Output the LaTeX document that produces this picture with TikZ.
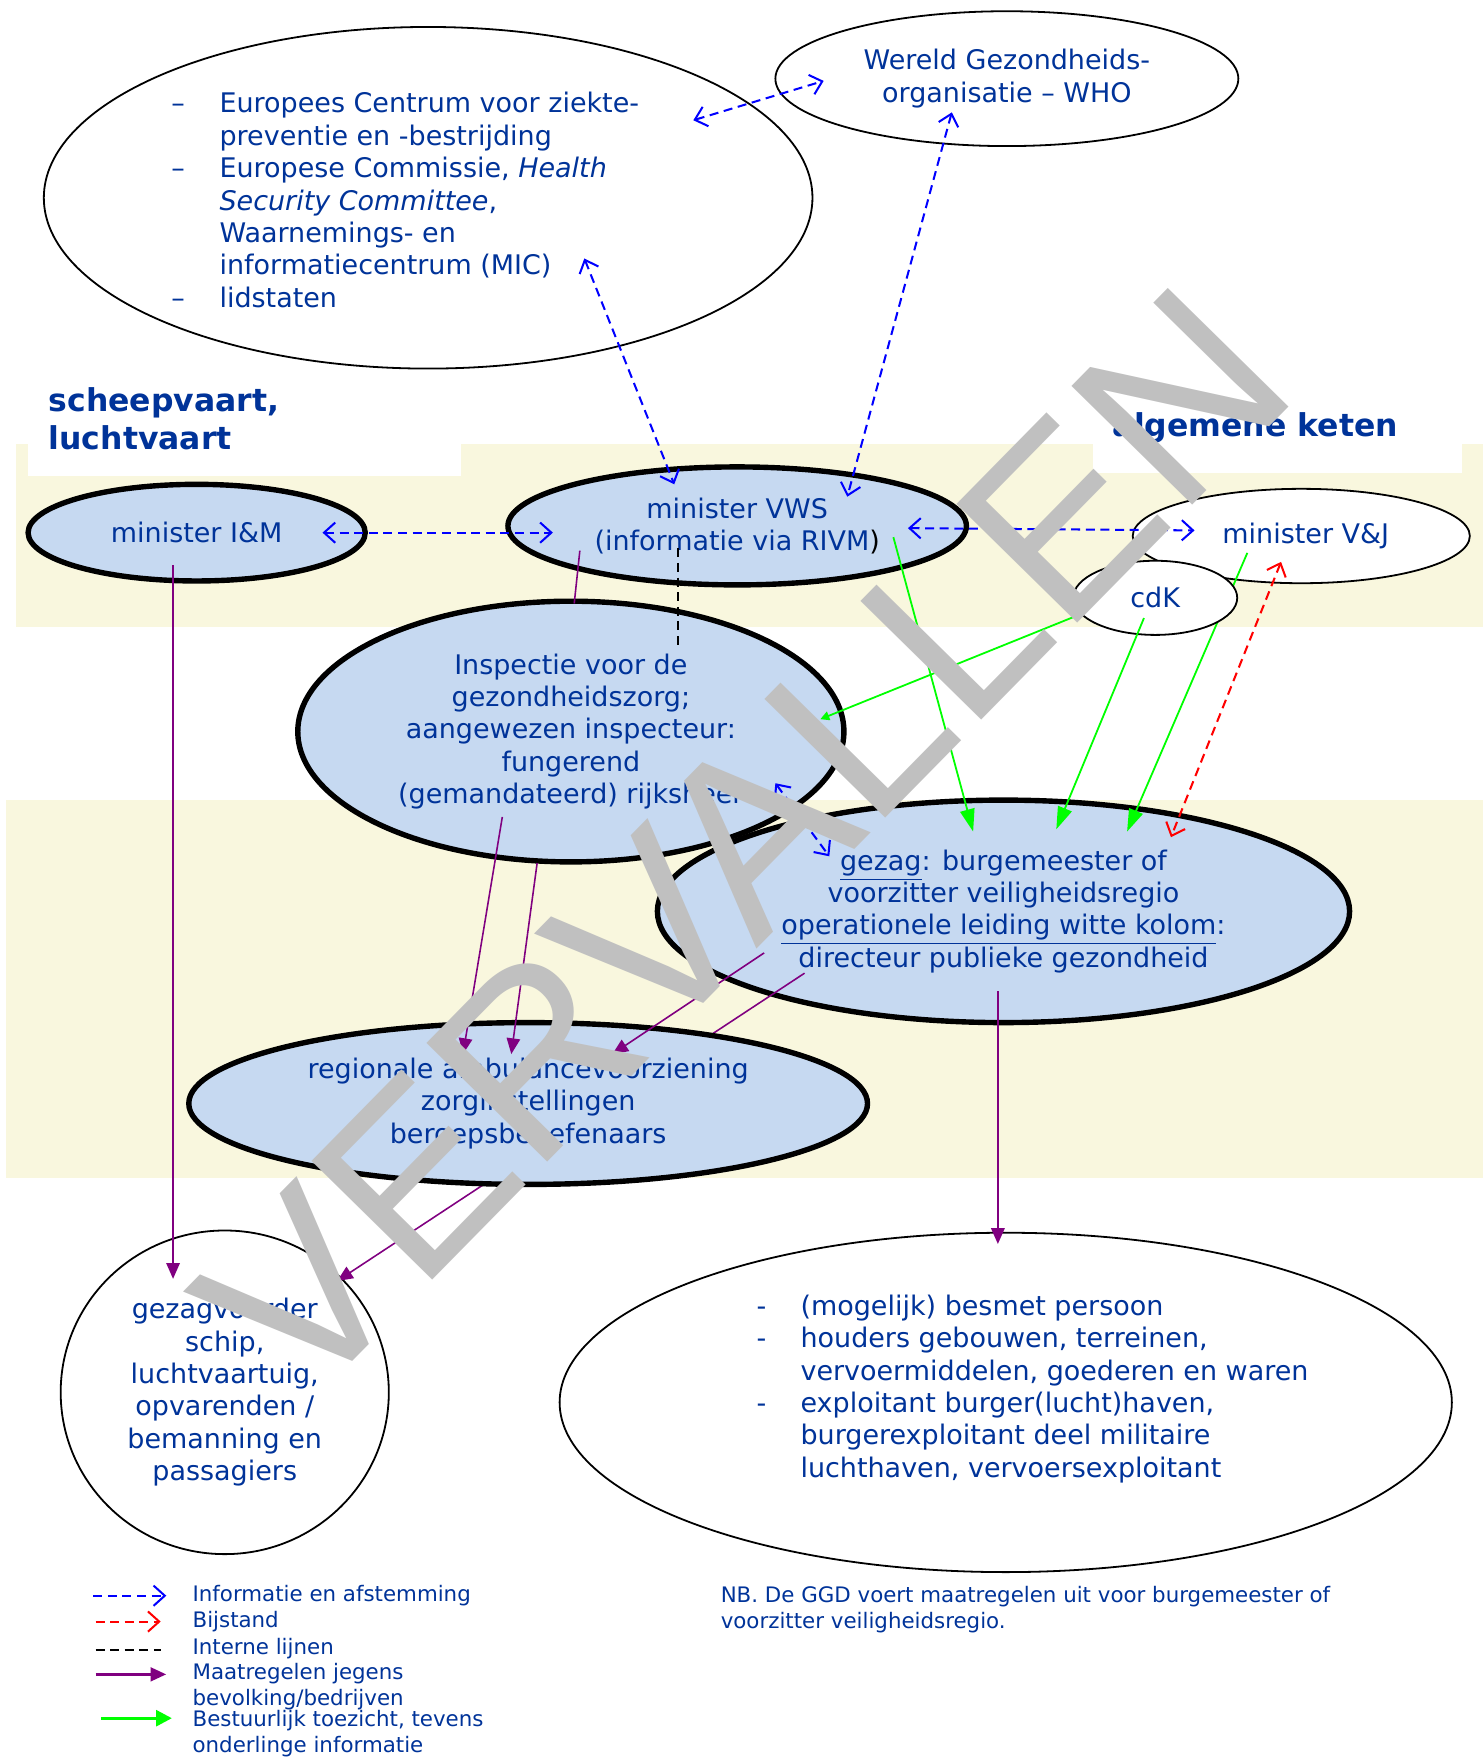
\documentclass[tikz,border=0pt]{standalone}
\usepackage{fontspec}
\setmainfont{DejaVu Sans}
\newfontfamily\stampfont{Liberation Sans}
\usetikzlibrary{arrows.meta,shapes.geometric,positioning,calc}

\definecolor{txtblue}{RGB}{0,51,153}
\definecolor{cellblue}{RGB}{198,217,241}
\definecolor{bandyellow}{RGB}{249,247,222}
\definecolor{maatpurple}{RGB}{128,0,128}
\definecolor{stampgray}{RGB}{192,192,192}

\newcommand{\listmark}[2]{\makebox[#1][l]{#2}}

\tikzset{
  mainell/.style={ellipse,draw,line width=2.4pt,fill=cellblue,text=txtblue,align=center,inner sep=0pt,font=\fontsize{12}{14.4}\selectfont},
  sideell/.style={ellipse,draw,line width=0.8pt,fill=white,text=txtblue,align=center,inner sep=0pt,font=\fontsize{12}{14.4}\selectfont},
  listtext/.style={text=txtblue,align=left,inner sep=0pt,anchor=west,font=\fontsize{12}{14.4}\selectfont},
  heading/.style={text=txtblue,align=left,inner sep=0pt,anchor=west,font=\fontsize{14}{17}\selectfont\bfseries},
  legend/.style={text=txtblue,align=left,inner sep=0pt,anchor=west,font=\fontsize{9.5}{11.5}\selectfont},
  info/.style={draw=blue,line width=0.9pt,dash pattern=on 4pt off 2.5pt,<->},
  bijstand/.style={draw=red,line width=0.9pt,dash pattern=on 4pt off 2.5pt,<->},
  intern/.style={draw=black,line width=0.9pt,dash pattern=on 4pt off 2.5pt},
  maatregel/.style={draw=maatpurple,line width=0.7pt,-{Triangle[length=7pt,width=6pt]}},
  toezicht/.style={draw=green,line width=0.8pt,-{Triangle[length=10pt,width=6.5pt]}},
  stamp/.style={text=stampgray,rotate=45.5,inner sep=0pt,font=\stampfont\fontsize{109.5}{110}\selectfont}
}

\begin{document}
\begin{tikzpicture}[x=0.5pt,y=-0.5pt,>={Straight Barb[length=5pt,width=9pt]}]
  \useasboundingbox (0,0) rectangle (1320,1568);
  % Background bands
  \fill[bandyellow] (14,395) rectangle (1320,558);
  \fill[bandyellow] (5,712) rectangle (1320,1048);
  \fill[white] (25,395) rectangle (410,424);
  \fill[white] (973,395) rectangle (1301,421);
  \node[heading] (ship) at (43,373) {scheepvaart,\\luchtvaart};
  \node[heading] (chain) at (990,381) {algemene keten};

  % International level
  \node[sideell,minimum width=206pt,minimum height=60pt] (who) at (896,70) {Wereld Gezondheids-\\organisatie – WHO};
  \node[sideell,minimum width=342pt,minimum height=152pt] (eu) at (381,176) {};
  \node[listtext] (eutext) at (152,178) {%
    \listmark{21.5pt}{–}Europees Centrum voor ziekte-\\
    \hspace*{21.5pt}preventie en -bestrijding\\
    \listmark{21.5pt}{–}Europese Commissie, \textit{Health}\\
    \hspace*{21.5pt}\textit{Security Committee},\\
    \hspace*{21.5pt}Waarnemings- en\\
    \hspace*{21.5pt}informatiecentrum (MIC)\\
    \listmark{21.5pt}{–}lidstaten};

  % Ministers and authorities
  \node[mainell,minimum width=150pt,minimum height=43pt] (im) at (175,474) {minister I\&M};
  \node[mainell,minimum width=204pt,minimum height=52.5pt] (vws) at (656,468) {minister VWS\\(informatie via RIVM\textcolor{black}{)}};
  \node[sideell,minimum width=150pt,minimum height=42pt] (vj) at (1158,477) {\hspace*{4pt}minister V\&J};
  \node[mainell,minimum width=243pt,minimum height=116pt] (insp) at (508,651) {Inspectie voor de\\gezondheidszorg;\\aangewezen inspecteur:\\fungerend\\(gemandateerd) rijksheer};
  \node[mainell,minimum width=308pt,minimum height=99pt] (gezag) at (893,811) {\underline{gezag}: burgemeester of\\voorzitter veiligheidsregio\\\underline{operationele leiding witte kolom}:\\directeur publieke gezondheid};
  \node[sideell,minimum width=146pt,minimum height=144pt] (gzv) at (200,1239) {gezagvoerder\\schip,\\luchtvaartuig,\\opvarenden /\\bemanning en\\passagiers};
  \node[sideell,minimum width=397pt,minimum height=151pt] (burger) at (895,1248) {};
  \node[listtext] (burgertext) at (673,1236) {%
    \listmark{19.5pt}{-}(mogelijk) besmet persoon\\
    \listmark{19.5pt}{-}houders gebouwen, terreinen,\\
    \hspace*{19.5pt}vervoermiddelen, goederen en waren\\
    \listmark{19.5pt}{-}exploitant burger(lucht)haven,\\
    \hspace*{19.5pt}burgerexploitant deel militaire\\
    \hspace*{19.5pt}luchthaven, vervoersexploitant};

  % Lines running under cdK and the regional ellipse
  \draw[toezicht] ([shift={(-48,15)}]vj.center) -- ([shift={(110,-71)}]gezag.center);
  \node[sideell,minimum width=73pt,minimum height=33pt] (cdk) at (1028,532) {cdK};
  \draw[maatregel] ([shift={(-177,55)}]gezag.center) -- ([shift={(100,-99)}]gzv.center);
  \node[mainell,minimum width=302pt,minimum height=72pt] (regio) at (470,982) {regionale ambulancevoorziening\\zorginstellingen\\beroepsbeoefenaars};

  % Information and coordination
  \draw[info] ([shift={(236,-69)}]eu.center) -- ([shift={(-163,2)}]who.center);
  \draw[info] ([shift={(139,54)}]eu.center) -- ([shift={(-56,-37)}]vws.center);
  \draw[info] ([shift={(-49,30)}]who.center) -- ([shift={(98,-26)}]vws.center);
  \draw[info] ([shift={(112,0)}]im.center) -- ([shift={(-164,6)}]vws.center);
  \draw[info] ([shift={(152,2)}]vws.center) -- ([shift={(-95,-5)}]vj.center);
  \draw[info] ([shift={(182,46)}]insp.center) -- ([shift={(-155,-49)}]gezag.center);
  \draw[bijstand] ([shift={(-18,23)}]vj.center) -- ([shift={(149,-66)}]gezag.center);
  \draw[intern] ([shift={(-53,20)}]vws.center) -- ([shift={(95,-76)}]insp.center);

  % Measures
  \draw[maatregel,-] ([shift={(-140,22)}]vws.center) -- ([shift={(3,-114)}]insp.center);
  \draw[maatregel] ([shift={(-21,29)}]im.center) -- ([shift={(-46,-101)}]gzv.center);
  \draw[maatregel] ([shift={(-61,76)}]insp.center) -- ([shift={(-58,-44)}]regio.center);
  \draw[maatregel] ([shift={(-30,117)}]insp.center) -- ([shift={(-15,-44)}]regio.center);
  \draw[maatregel] ([shift={(-213,37)}]gezag.center) -- ([shift={(75,-44)}]regio.center);
  \draw[maatregel] ([shift={(-5,71)}]gezag.center) -- ([shift={(-7,-141)}]burger.center);

  % Supervision
  \draw[toezicht] ([shift={(139,10)}]vws.center) -- ([shift={(-27,-71)}]gezag.center);
  \draw[toezicht,-{Triangle[length=4pt,width=4pt]}] ([shift={(-70,16)}]cdk.center) -- ([shift={(222,-11)}]insp.center);
  \draw[toezicht] ([shift={(-10,18)}]cdk.center) -- ([shift={(47,-73)}]gezag.center);

  % Legend
  \node[legend] (leginfo) at (171,1420) {Informatie en afstemming};
  \node[legend] (legbijstand) at (171,1443) {Bijstand};
  \node[legend] (legintern) at (171,1467) {Interne lijnen};
  \node[legend] (legmaat) at (171,1501) {Maatregelen jegens\\bevolking/bedrijven};
  \node[legend] (legtoezicht) at (171,1543) {Bestuurlijk toezicht, tevens\\onderlinge informatie};
  \draw[info,->] ([shift={(-88,0)}]leginfo.west) -- ([shift={(-23,0)}]leginfo.west);
  \draw[bijstand,->] ([shift={(-86,0)}]legbijstand.west) -- ([shift={(-28,0)}]legbijstand.west);
  \draw[intern] ([shift={(-86,1)}]legintern.west) -- ([shift={(-28,1)}]legintern.west);
  \draw[maatregel,line width=1.4pt] ([shift={(-86,-11)}]legmaat.west) -- ([shift={(-23,-11)}]legmaat.west);
  \draw[toezicht,line width=1.4pt,-{Triangle[length=7pt,width=7pt]}] ([shift={(-81,-14)}]legtoezicht.west) -- ([shift={(-18,-14)}]legtoezicht.west);
  \node[legend] (nb) at (641,1432) {NB. De GGD voert maatregelen uit voor burgemeester of\\voorzitter veiligheidsregio.};

  % Watermark
  \node[stamp] (vervallen) at (661,750) {VERVALLEN};
\end{tikzpicture}
\end{document}
